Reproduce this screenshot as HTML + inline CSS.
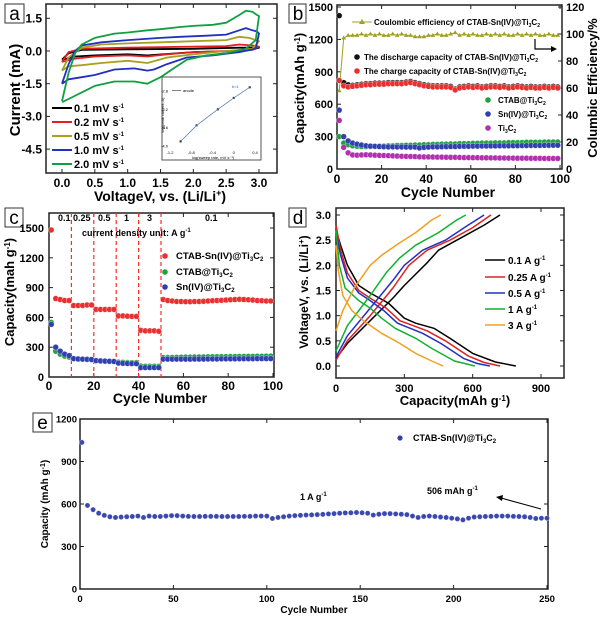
<!DOCTYPE html>
<html><head><meta charset="utf-8"><style>
html,body{margin:0;padding:0;background:#fff;}
svg{display:block;font-family:"Liberation Sans",sans-serif;font-weight:bold;}
</style></head><body>
<svg id="fig" width="600" height="617" viewBox="0 0 600 617" xmlns="http://www.w3.org/2000/svg">
<rect width="600" height="617" fill="#fff"/>
<!-- panel labels -->
<g><rect x="5" y="4" width="19" height="19" fill="#fff" stroke="#333"/><text x="14.5" y="20" font-size="19" font-weight="normal" text-anchor="middle">a</text></g>
<g><rect x="289" y="4" width="17" height="19" fill="#fff" stroke="#333"/><text x="298" y="20" font-size="19" font-weight="normal" text-anchor="middle">b</text></g>
<g><rect x="5" y="208" width="18" height="19" fill="#fff" stroke="#333"/><text x="14" y="224" font-size="19" font-weight="normal" text-anchor="middle">c</text></g>
<g><rect x="289" y="208" width="17" height="19" fill="#fff" stroke="#333"/><text x="298" y="224" font-size="19" font-weight="normal" text-anchor="middle">d</text></g>
<g><rect x="33" y="413" width="19" height="19" fill="#fff" stroke="#333"/><text x="42.5" y="429" font-size="19" font-weight="normal" text-anchor="middle">e</text></g>

<!-- axis titles -->
<text x="160" y="201" font-size="14" text-anchor="middle">VoltageV, vs. (Li/Li<tspan dy="-5" font-size="9">+</tspan><tspan dy="5">)</tspan></text>
<text transform="translate(20,90) rotate(-90)" font-size="15" text-anchor="middle">Current (mA)</text>
<text x="448" y="197" font-size="14" text-anchor="middle">Cycle Number</text>
<text transform="translate(304,88) rotate(-90)" font-size="13" text-anchor="middle">Capacity(mAh g<tspan dy="-4" font-size="8">-1</tspan><tspan dy="4">)</tspan></text>
<text transform="translate(597,88) rotate(-90)" font-size="13" text-anchor="middle">Columbic Efficiency/%</text>
<text x="160" y="403" font-size="14" text-anchor="middle">Cycle Number</text>
<text transform="translate(14,292) rotate(-90)" font-size="13" text-anchor="middle">Capacity(mah g<tspan dy="-4" font-size="8">-1</tspan><tspan dy="4">)</tspan></text>
<text x="455" y="405" font-size="13" text-anchor="middle">Capacity(mAh g<tspan dy="-4" font-size="8">-1</tspan><tspan dy="4">)</tspan></text>
<text transform="translate(308,292) rotate(-90)" font-size="12" text-anchor="middle">VoltageV, vs. (Li/Li<tspan dy="-4" font-size="8">+</tspan><tspan dy="4">)</tspan></text>
<text x="314" y="613" font-size="10" text-anchor="middle">Cycle Number</text>
<text transform="translate(48,504) rotate(-90)" font-size="10" text-anchor="middle">Capacity (mAh g<tspan dy="-3" font-size="7">-1</tspan><tspan dy="3">)</tspan></text>

<g id="marks"></g>

<!-- legends -->
<g font-size="11">
<line x1="52" y1="108" x2="72" y2="108" stroke="#000" stroke-width="2"/><text x="74" y="112">0.1 mV s<tspan dy="-4" font-size="6">-1</tspan></text>
<line x1="52" y1="122" x2="72" y2="122" stroke="#e02020" stroke-width="2"/><text x="74" y="126">0.2 mV s<tspan dy="-4" font-size="6">-1</tspan></text>
<line x1="52" y1="136" x2="72" y2="136" stroke="#a8a020" stroke-width="2"/><text x="74" y="140">0.5 mV s<tspan dy="-4" font-size="6">-1</tspan></text>
<line x1="52" y1="150" x2="72" y2="150" stroke="#2030c0" stroke-width="2"/><text x="74" y="154">1.0 mV s<tspan dy="-4" font-size="6">-1</tspan></text>
<line x1="52" y1="164" x2="72" y2="164" stroke="#10a040" stroke-width="2"/><text x="74" y="168">2.0 mV s<tspan dy="-4" font-size="6">-1</tspan></text>
</g>
<g font-size="8">
<line x1="352" y1="22" x2="372" y2="22" stroke="#a0a020" stroke-width="1"/><polygon points="362,19 365,24 359,24" fill="#a0a020"/><text x="374" y="25">Coulombic efficiency of CTAB-Sn(IV)@Ti<tspan dy="2" font-size="5">3</tspan><tspan dy="-2">C</tspan><tspan dy="2" font-size="5">2</tspan></text>
<circle cx="357" cy="57" r="2.8" fill="#111"/><text x="364" y="60">The discharge capacity of CTAB-Sn(IV)@Ti<tspan dy="2" font-size="5">3</tspan><tspan dy="-2">C</tspan><tspan dy="2" font-size="5">2</tspan></text>
<circle cx="357" cy="71" r="2.8" fill="#e83030"/><text x="364" y="74">The charge capacity of  CTAB-Sn(IV)@Ti<tspan dy="2" font-size="5">3</tspan><tspan dy="-2">C</tspan><tspan dy="2" font-size="5">2</tspan></text>
<circle cx="488" cy="100" r="2.8" fill="#20a040"/><text x="498" y="103">CTAB@Ti<tspan dy="2" font-size="5">3</tspan><tspan dy="-2">C</tspan><tspan dy="2" font-size="5">2</tspan></text>
<circle cx="488" cy="114" r="2.8" fill="#3040b0"/><text x="498" y="117">Sn(IV)@Ti<tspan dy="2" font-size="5">3</tspan><tspan dy="-2">C</tspan><tspan dy="2" font-size="5">2</tspan></text>
<circle cx="488" cy="128" r="2.8" fill="#b030b0"/><text x="498" y="131">Ti<tspan dy="2" font-size="5">3</tspan><tspan dy="-2">C</tspan><tspan dy="2" font-size="5">2</tspan></text>
<path d="M535,39 V49 H553" fill="none" stroke="#000" stroke-width="1.2"/><polygon points="557,49 551,46 551,52" fill="#000"/>
</g>
<g font-size="9">
<text x="58" y="221">0.1</text><text x="73" y="221">0.25</text><text x="98" y="221">0.5</text><text x="124" y="221">1</text><text x="147" y="221">3</text><text x="205" y="221">0.1</text>
<text x="82" y="236">current density unit: A g<tspan dy="-4" font-size="6">-1</tspan></text>
</g>
<g font-size="9.5">
<circle cx="165" cy="256" r="2.8" fill="#e83030"/><text x="176" y="259">CTAB-Sn(IV)@Ti<tspan dy="2" font-size="6">3</tspan><tspan dy="-2">C</tspan><tspan dy="2" font-size="6">2</tspan></text>
<circle cx="165" cy="272" r="2.8" fill="#20a040"/><text x="176" y="275">CTAB@Ti<tspan dy="2" font-size="6">3</tspan><tspan dy="-2">C</tspan><tspan dy="2" font-size="6">2</tspan></text>
<circle cx="165" cy="287" r="2.8" fill="#3040b0"/><text x="176" y="290">Sn(IV)@Ti<tspan dy="2" font-size="6">3</tspan><tspan dy="-2">C</tspan><tspan dy="2" font-size="6">2</tspan></text>
</g>
<g font-size="10">
<line x1="485" y1="260" x2="505" y2="260" stroke="#000" stroke-width="1.5"/><text x="508" y="264">0.1 A g<tspan dy="-4" font-size="6">-1</tspan></text>
<line x1="485" y1="277" x2="505" y2="277" stroke="#e02020" stroke-width="1.5"/><text x="508" y="281">0.25 A g<tspan dy="-4" font-size="6">-1</tspan></text>
<line x1="485" y1="293" x2="505" y2="293" stroke="#2030c0" stroke-width="1.5"/><text x="508" y="297">0.5 A g<tspan dy="-4" font-size="6">-1</tspan></text>
<line x1="485" y1="309" x2="505" y2="309" stroke="#10b030" stroke-width="1.5"/><text x="508" y="313">1 A g<tspan dy="-4" font-size="6">-1</tspan></text>
<line x1="485" y1="325" x2="505" y2="325" stroke="#f0a020" stroke-width="1.5"/><text x="508" y="329">3 A g<tspan dy="-4" font-size="6">-1</tspan></text>
</g>
<g font-size="9">
<circle cx="400" cy="438" r="2.6" fill="#3040b0"/><text x="413" y="441">CTAB-Sn(IV)@Ti<tspan dy="2" font-size="6">3</tspan><tspan dy="-2">C</tspan><tspan dy="2" font-size="6">2</tspan></text>
</g>
<g font-size="9">
<text x="300" y="500">1 A g<tspan dy="-4" font-size="6">-1</tspan></text>
<text x="427" y="494">506 mAh g<tspan dy="-4" font-size="6">-1</tspan></text>
<line x1="541" y1="509" x2="501" y2="498" stroke="#000" stroke-width="1"/><polygon points="496,497 503,495 502,501" fill="#000"/>
</g>
</svg>
<script>
// ---------- data ----------
const cvRates = ['0.1','0.2','0.5','1.0','2.0'];
const cv01V = [0,0.1,0.3,1,2,2.7,3.0,2.8,2,1.3,1,0.5,0.2,0];
const cv01I = [-0.4,-0.1,0.05,0.08,0.1,0.15,0.15,0.02,-0.05,-0.2,-0.15,-0.2,-0.25,-0.4];
const cv02V = [0,0.1,0.3,1,2,2.5,2.7,2.9,3.0,2.9,2.5,2,1.6,1.3,1,0.5,0.2,0];
const cv02I = [-0.5,-0.05,0.1,0.15,0.2,0.22,0.3,0.25,0.2,0.05,0,-0.05,-0.15,-0.25,-0.2,-0.25,-0.35,-0.5];
const cv05V = [0,0.1,0.3,0.6,1,1.5,2,2.5,2.7,2.85,3.0,2.9,2.5,2,1.6,1.3,1,0.6,0.3,0.1,0];
const cv05I = [-0.9,-0.3,0.15,0.3,0.35,0.4,0.45,0.5,0.65,0.6,0.45,0.1,0,-0.15,-0.3,-0.55,-0.45,-0.55,-0.65,-0.7,-0.9];
const cv10V = [0,0.1,0.2,0.3,0.6,1,1.5,1.8,2.2,2.5,2.7,2.8,2.9,2.97,3.0,2.95,2.7,2.3,1.9,1.6,1.4,1.3,1.1,0.8,0.5,0.3,0.1,0];
const cv10I = [-1.5,-0.6,0,0.25,0.4,0.5,0.6,0.65,0.7,0.75,0.95,1.05,0.95,0.9,0.8,0.1,-0.05,-0.2,-0.3,-0.6,-0.85,-0.9,-0.8,-0.85,-1.1,-1.2,-1.3,-1.5];
const cv20V = [0,0.1,0.2,0.3,0.5,0.8,1,1.3,1.5,1.8,2,2.3,2.5,2.7,2.8,2.9,2.97,3.0,2.95,2.8,2.5,2.2,1.9,1.7,1.5,1.3,1.1,0.8,0.5,0.3,0.1,0];
const cv20I = [-2.3,-1.0,-0.1,0.3,0.6,0.8,0.85,0.95,1.0,1.1,1.15,1.2,1.3,1.65,1.85,1.8,1.65,1.6,0.5,0.1,-0.1,-0.2,-0.4,-0.8,-1.2,-1.5,-1.4,-1.4,-1.6,-1.9,-2.2,-2.35];
const insetX = [-1.0,-0.7,-0.3,0.0,0.3];
const insetY = [-3.9,-3.55,-3.2,-2.95,-2.72];

const bDischarge = [1420,800,780,775,780,785,790,790,795,795,795,800,800,800,800,805,810,800,790,780,775,770,770,770,770,765,740,760,765,770,765,770,760,765,770,770,765,770,760,765,770,765,760,765,760,760,765,760,765,760];
const bCharge = [820,770,760,765,770,775,780,780,785,785,785,790,790,790,790,795,800,790,780,770,765,760,760,760,760,755,732,750,755,760,755,760,750,755,760,760,755,760,750,755,760,755,750,755,750,750,755,750,755,750];
const bCE = [58,97,99,99,99,100,99,100,99,100,99,99,100,99,100,99,99,98,98,98,99,99,100,99,99,100,101,99,100,99,100,99,99,100,99,100,99,100,99,99,100,99,100,99,100,99,99,100,99,99];
const bCTAB = [300,240,225,215,210,208,207,208,210,212,213,215,215,218,218,220,220,222,222,225,225,228,228,230,230,232,232,235,235,235,238,238,240,240,240,242,242,242,245,245,245,245,248,248,248,248,250,250,250,250];
const bSn = [545,300,260,240,230,222,215,212,210,208,206,205,205,204,204,203,203,203,195,200,203,205,205,206,207,208,208,210,210,210,212,212,213,213,214,214,215,215,215,216,216,217,217,218,218,218,219,219,220,220];
const bTi = [450,200,150,130,128,130,132,130,128,126,125,124,122,120,118,117,116,115,113,112,112,111,110,110,109,108,108,107,106,106,105,105,104,104,103,103,102,102,101,101,100,100,100,99,99,99,98,98,98,98];

const cRate = [1480,790,780,770,770,720,720,720,725,725,680,680,680,680,680,615,615,612,610,610,470,465,465,465,460,780,770,765,760,760,758,758,760,760,762,765,768,770,772,775,778,780,782,780,778,775,770,768,765,765];
const cCTAB = [550,260,230,210,200,185,180,178,176,175,165,162,160,158,158,150,148,146,145,145,110,108,108,108,108,195,196,197,198,199,200,200,201,202,202,203,204,204,205,205,206,206,207,207,208,208,209,209,210,210];
const cSn = [530,300,260,230,215,185,182,180,178,176,165,162,160,158,156,140,138,136,135,134,95,95,95,95,95,180,180,180,180,180,180,180,181,181,181,182,182,182,183,183,183,183,184,184,184,184,185,185,185,185];
const cBoundaries = [10,20,30,40,50];

const dLabels = ['0.1','0.25','0.5','1','3'];
const dDisQ = [[0,20,50,100,150,230,300,350,430,500,600,700,790],[0,20,50,100,150,220,280,400,480,580,650,720],[0,20,50,100,150,210,270,380,460,560,620,675],[0,15,40,100,150,200,260,350,420,520,610],[0,10,30,70,120,200,280,350,420,470]];
const dDisV = [[2.7,2.4,2.0,1.6,1.45,1.25,0.95,0.85,0.75,0.55,0.25,0.08,0],[2.8,2.3,1.85,1.5,1.35,1.15,0.9,0.7,0.5,0.2,0.07,0],[2.65,2.2,1.75,1.45,1.3,1.1,0.85,0.65,0.45,0.15,0.05,0],[2.7,2.0,1.55,1.3,1.15,0.95,0.75,0.55,0.35,0.1,0],[2.4,1.9,1.4,1.1,0.9,0.65,0.45,0.25,0.1,0]];
const dChQ = [[0,50,150,250,300,400,450,550,650,720],[0,50,150,250,320,400,500,600,680],[0,50,150,250,300,380,480,580,650],[0,50,150,220,280,350,450,530,570],[0,30,80,150,200,280,350,420,460]];
const dChV = [[0.15,0.45,0.9,1.35,1.6,2.05,2.3,2.55,2.8,3.0],[0.12,0.5,1.0,1.55,2.0,2.3,2.5,2.75,3.0],[0.18,0.6,1.15,1.7,2.0,2.3,2.5,2.8,3.0],[0.3,0.8,1.4,1.85,2.15,2.4,2.65,2.9,3.0],[0.7,1.1,1.55,2.0,2.2,2.45,2.65,2.9,3.0]];

const eCap = [1035,590,560,535,520,510,505,508,510,512,515,505,515,512,512,515,518,518,515,513,512,512,513,513,513,512,512,512,512,513,513,515,515,515,498,505,510,515,518,520,522,523,525,527,530,532,535,537,538,540,538,535,522,528,532,532,530,528,525,515,505,512,515,512,508,505,500,495,488,500,508,510,512,513,515,515,515,513,512,510,505,498,500,500];

const aXTicks=[0,0.5,1,1.5,2,2.5,3], aYTicks=[1.5,0,-1.5,-3,-4.5];
const bXTicks=[0,20,40,60,80,100], bYTicks=[0,300,600,900,1200,1500], bY2Ticks=[0,20,40,60,80,100,120];
const cXTicks=[0,20,40,60,80,100], cYTicks=[0,300,600,900,1200,1500];
const dXTicks=[0,300,600,900], dYTicks=[0,0.5,1,1.5,2,2.5,3];
const eXTicks=[0,50,100,150,200,250], eYTicks=[0,300,600,900,1200];

// ---------- drawing ----------
const NS='http://www.w3.org/2000/svg';
const root=document.getElementById('marks');
function mk(tag,attrs,parent){const e=document.createElementNS(NS,tag);for(const k in attrs)e.setAttribute(k,attrs[k]);(parent||root).appendChild(e);return e;}
function sc(d0,d1,r0,r1){return v=>r0+(v-d0)*(r1-r0)/(d1-d0);}
const xa=sc(0,3,62,259), ya=sc(0,1.5,51,18.3);
const xb=sc(0,100,337,560), yb=sc(0,1500,169,7), yb2=sc(0,120,169,7);
const xc=sc(0,100,49,273), yc=sc(0,1500,377,228);
const xd=sc(0,900,336,541), yd=sc(0,3,366,215);
const xe=sc(0,250,80,547), ye=sc(0,1200,589,419);
const xi=sc(-1.2,0.4,170,255), yi=sc(-2.8,-4.0,91,146);

function frame(name,x0,y0,x1,y1){const r=mk('rect',{x:x0,y:y0,width:x1-x0,height:y1-y0,fill:'none',stroke:'#222','stroke-width':1.5});

}
function xticks(name,ticks,sx,yb,yt,ly,fs,fmt){const g=mk('g',{});


ticks.forEach(t=>{const x=sx(t);mk('line',{x1:x,x2:x,y1:yb,y2:yb-4,stroke:'#222'},g);mk('line',{x1:x,x2:x,y1:yt,y2:yt+4,stroke:'#222'},g);const tx=mk('text',{x:x,y:ly,'font-size':fs,'text-anchor':'middle'},g);tx.textContent=fmt?fmt(t):t;});}
function yticks(name,ticks,sy,xl,xr,lx,fs,fmt,anchor){const g=mk('g',{});


ticks.forEach(t=>{const y=sy(t);if(xl!==null)mk('line',{x1:xl,x2:xl+4,y1:y,y2:y,stroke:'#222'},g);if(xr!==null)mk('line',{x1:xr,x2:xr-4,y1:y,y2:y,stroke:'#222'},g);const tx=mk('text',{x:lx,y:y+fs*0.36,'font-size':fs,'text-anchor':anchor||'end'},g);tx.textContent=fmt?fmt(t):t;});}
function poly(name,xs,ys,sx,sy,color,w){const d=xs.map((v,i)=>(i?'L':'M')+sx(v).toFixed(1)+','+sy(ys[i]).toFixed(1)).join('');const p=mk('path',{d:d,fill:'none',stroke:color,'stroke-width':w||1.8,'stroke-linejoin':'round'});

}
function dots(name,vals,cyc,sx,sy,color,r){const g=mk('g',{});


vals.forEach((v,i)=>{mk('circle',{cx:sx(cyc(i)),cy:sy(v),r:r,fill:color,stroke:'rgba(255,255,255,0.5)','stroke-width':0.6},g);});}
const f1=v=>v.toFixed(1);

// Panel a
frame('a-plot-frame',46,4,277,173);
xticks('a-x-axis',aXTicks,xa,173,4,187,12,f1);
yticks('a-y-axis',aYTicks,ya,46,277,42,12,f1);
const cvColors=['#000','#e02020','#a8a020','#2030c0','#10a040'];
[[cv01V,cv01I],[cv02V,cv02I],[cv05V,cv05I],[cv10V,cv10I],[cv20V,cv20I]].forEach((s,i)=>poly('cv-curve-'+cvRates[i],s[0],s[1],xa,ya,cvColors[i],1.8));
const inset=mk('g',{});


mk('rect',{x:162,y:77,width:99,height:83,fill:'#fff',stroke:'#555'},inset);
[-1.2,-0.8,-0.4,0,0.4].forEach(t=>{const tx=mk('text',{x:xi(t),y:154,'font-size':4,'font-weight':'normal','text-anchor':'middle'},inset);tx.textContent=t;});
[-2.8,-3.2,-3.6,-4.0].forEach(t=>{const tx=mk('text',{x:168,y:yi(t)+1.5,'font-size':4,'font-weight':'normal','text-anchor':'end'},inset);tx.textContent=t.toFixed(1);});
const il=mk('text',{x:213,y:159,'font-size':4,'font-weight':'normal','text-anchor':'middle'},inset);il.textContent='log(sweep rate, mV s\u207B\u00B9)';
const iy=mk('text',{transform:'translate(164,115) rotate(-90)','font-size':4,'font-weight':'normal','text-anchor':'middle'},inset);iy.textContent='log(peak current, A)';
const ia=mk('text',{x:183,y:92,'font-size':4,'font-weight':'normal'},inset);ia.textContent='anode';
mk('line',{x1:172,x2:181,y1:90.5,y2:90.5,stroke:'#333','stroke-width':0.6},inset);
const ib=mk('text',{x:232,y:88,'font-size':4,fill:'#3060c0','font-weight':'normal'},inset);ib.textContent='b=1';
poly('inset-fit-line',insetX,insetY,xi,yi,'#6080b0',0.8);
insetX.forEach((v,i)=>mk('rect',{x:xi(v)-1,y:yi(insetY[i])-1,width:2,height:2,fill:'#111'},inset));

// Panel b
frame('b-plot-frame',337,5,562,169);
xticks('b-x-axis',bXTicks,xb,169,5,183,12);
yticks('b-y-axis',bYTicks,yb,337,null,333,11);
yticks('b-y2-axis',bY2Ticks,yb2,null,562,566,11,null,'start');
const cb=i=>1+2*i;
const ceG=mk('g',{});


mk('path',{d:bCE.map((v,i)=>(i?'L':'M')+xb(cb(i))+','+yb2(v)).join(''),fill:'none',stroke:'#a0a020','stroke-width':1},ceG);
bCE.forEach((v,i)=>{const x=xb(cb(i)),y=yb2(v);mk('polygon',{points:`${x},${y-2.5} ${x+2.3},${y+1.5} ${x-2.3},${y+1.5}`,fill:'#a0a020'},ceG);});
dots('b-discharge-series',bDischarge,cb,xb,yb,'#111',2.9);
dots('b-charge-series',bCharge,cb,xb,yb,'#e83030',2.9);
dots('b-ctab-series',bCTAB,cb,xb,yb,'#20a040',2.9);
dots('b-sn-series',bSn,cb,xb,yb,'#3040b0',2.9);
dots('b-ti3c2-series',bTi,cb,xb,yb,'#b030b0',2.9);

// Panel c
frame('c-plot-frame',49,213,274,377);
xticks('c-x-axis',cXTicks,xc,377,213,390,12);
yticks('c-y-axis',cYTicks,yc,49,274,44,11);
cBoundaries.forEach(b=>{const l=mk('line',{x1:xc(b),x2:xc(b),y1:213,y2:377,stroke:'#ff2a2a','stroke-dasharray':'4,3','stroke-width':1.2});

});
dots('c-ctab-sn-series',cRate,cb,xc,yc,'#e83030',2.9);
dots('c-ctab-series',cCTAB,cb,xc,yc,'#20a040',2.9);
dots('c-sn-series',cSn,cb,xc,yc,'#3040b0',2.9);

// Panel d
frame('d-plot-frame',336,208,564,378);
xticks('d-x-axis',dXTicks,xd,378,208,392,11);
yticks('d-y-axis',dYTicks,yd,336,564,331,11,f1);
const dColors=['#000','#e02020','#2030c0','#10b030','#f0a020'];
dLabels.forEach((l,i)=>{poly('d-discharge-'+l,dDisQ[i],dDisV[i],xd,yd,dColors[i],1.5);poly('d-charge-'+l,dChQ[i],dChV[i],xd,yd,dColors[i],1.5);});

// Panel e
frame('e-plot-frame',80,419,548,589);
xticks('e-x-axis',eXTicks,xe,589,419,602,9.5);
yticks('e-y-axis',eYTicks,ye,80,548,77,9.5);
dots('e-capacity-series',eCap,i=>1+3*i,xe,ye,'#3a48b0',2.6);
</script>
</body></html>
